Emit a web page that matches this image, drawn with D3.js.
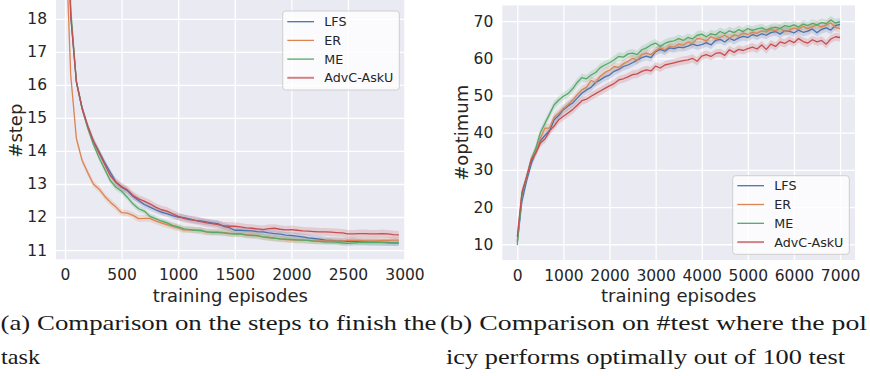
<!DOCTYPE html>
<html><head><meta charset="utf-8">
<script src="https://cdn.jsdelivr.net/npm/d3@7"></script>
<style>body{margin:0;background:#fff}svg{display:block}</style>
</head><body><svg id="c" width="870" height="376"></svg>
<script>
// ---------- data ----------
const seriesNames = ["LFS", "ER", "ME", "AdvC-AskU"];
const seriesColors = ["#4C72B0", "#DD8452", "#55A868", "#C44E52"];

// (a) #step vs training episodes
const stepEpisodes = d3.range(0, 3000, 50);
const stepLFS = [24, 18.1, 16.1, 15.3, 14.75, 14.3, 13.98, 13.65, 13.35, 13.05, 12.9, 12.8, 12.63, 12.5, 12.38, 12.3, 12.22, 12.15, 12.1, 12.04,
  12.0, 11.98, 11.94, 11.9, 11.88, 11.85, 11.82, 11.8, 11.72, 11.68, 11.6, 11.6, 11.59, 11.58, 11.56, 11.55, 11.52, 11.5, 11.48, 11.45,
  11.44, 11.42, 11.4, 11.37, 11.35, 11.33, 11.3, 11.29, 11.28, 11.27, 11.26, 11.27, 11.25, 11.25, 11.24, 11.24, 11.23, 11.23, 11.22, 11.22];
const stepER = [21, 16.3, 14.38, 13.72, 13.35, 13.0, 12.85, 12.63, 12.45, 12.3, 12.13, 12.12, 12.05, 11.95, 11.96, 11.96, 11.88, 11.82, 11.77, 11.72,
  11.67, 11.61, 11.62, 11.6, 11.58, 11.55, 11.55, 11.55, 11.53, 11.51, 11.5, 11.49, 11.47, 11.45, 11.43, 11.4, 11.38, 11.36, 11.34, 11.32,
  11.31, 11.3, 11.3, 11.29, 11.28, 11.28, 11.28, 11.28, 11.28, 11.27, 11.3, 11.29, 11.29, 11.28, 11.28, 11.28, 11.29, 11.29, 11.3, 11.3];
const stepME = [24, 18.3, 16.1, 15.3, 14.7, 14.2, 13.8, 13.45, 13.1, 12.9, 12.78, 12.6, 12.4, 12.25, 12.18, 12.02, 11.95, 11.88, 11.82, 11.75,
  11.7, 11.64, 11.62, 11.6, 11.6, 11.55, 11.53, 11.53, 11.52, 11.5, 11.48, 11.49, 11.45, 11.44, 11.44, 11.4, 11.38, 11.36, 11.34, 11.33,
  11.32, 11.31, 11.3, 11.29, 11.27, 11.26, 11.25, 11.25, 11.24, 11.22, 11.2, 11.22, 11.23, 11.23, 11.23, 11.23, 11.23, 11.22, 11.22, 11.22];
const stepAdvC = [24, 18.1, 16.1, 15.3, 14.75, 14.3, 13.95, 13.6, 13.25, 13.05, 12.92, 12.82, 12.65, 12.55, 12.48, 12.4, 12.3, 12.22, 12.18, 12.1,
  12.02, 11.96, 11.92, 11.9, 11.86, 11.82, 11.8, 11.77, 11.74, 11.72, 11.72, 11.7, 11.67, 11.66, 11.64, 11.62, 11.65, 11.66, 11.63, 11.61,
  11.62, 11.6, 11.58, 11.57, 11.56, 11.55, 11.55, 11.54, 11.53, 11.52, 11.49, 11.49, 11.5, 11.5, 11.49, 11.49, 11.5, 11.49, 11.47, 11.46];
const stepBand = [0.1, 0.1, 0.09, 0.12];
const stepXTicks = [0, 500, 1000, 1500, 2000, 2500, 3000];
const stepYTicks = [11, 12, 13, 14, 15, 16, 17, 18];

// (b) #optimum vs training episodes
const optEpisodes = d3.range(0, 7001, 100);
const optLFS = [10.5, 21.5, 27, 31.5, 35, 37.8, 39.3, 40.5, 43.5, 44.7, 46.2, 47.2, 48.0, 49.3, 50.6, 51.5, 52.2, 53.5, 54.2, 55.0,
  55.5, 56.5, 57.0, 57.8, 58.2, 58.8, 59.5, 60.2, 60.6, 60.2, 61.8, 62.4, 61.9, 62.8, 62.6, 63.0, 62.9, 63.3, 63.8, 63.4,
  63.7, 64.2, 63.6, 64.8, 65.1, 64.4, 65.4, 64.8, 65.5, 65.9, 65.6, 66.4, 66.0, 66.6, 66.2, 66.9, 67.2, 66.5, 67.4, 67.3,
  66.8, 67.6, 67.0, 67.3, 67.9, 66.9, 67.8, 68.2, 67.6, 68.8, 69.1];
const optER = [11, 23.5, 27.8, 33, 35, 38.5, 41.2, 41.3, 44.2, 45.2, 46.5, 47.5, 48.8, 50.2, 51.5, 52.2, 54.0, 53.5, 55.2, 56.2,
  56.8, 57.8, 57.5, 58.5, 59.2, 60.0, 59.5, 61.0, 61.4, 61.0, 62.0, 62.8, 62.3, 63.2, 63.0, 63.8, 63.5, 64.4, 63.9, 65.3,
  65.2, 64.6, 65.8, 65.2, 65.6, 66.2, 65.4, 66.3, 66.0, 66.8, 66.4, 67.0, 66.7, 67.4, 67.1, 67.8, 67.4, 68.1, 67.2, 67.6,
  68.2, 67.8, 68.6, 68.0, 68.5, 68.9, 68.4, 69.0, 69.5, 68.3, 68.0];
const optME = [9.8, 23, 28, 32.5, 35.8, 40, 42.5, 45, 47.5, 48.8, 49.8, 50.5, 51.8, 53.5, 54.8, 54.5, 55.5, 56.2, 57.5, 58.2,
  58.8, 59.6, 60.5, 60.3, 61.2, 61.4, 61.0, 62.3, 62.8, 63.6, 64.1, 63.2, 64.0, 64.5, 64.7, 65.3, 64.8, 65.6, 65.2, 66.2,
  66.5, 65.8, 66.6, 66.3, 67.2, 66.6, 67.4, 66.9, 67.7, 67.2, 68.0, 67.5, 67.9, 68.2, 67.6, 68.1, 68.4, 68.0, 68.8, 68.5,
  69.0, 68.4, 69.2, 68.8, 69.4, 69.0, 69.6, 69.3, 70.3, 69.5, 69.8];
const optAdvC = [12, 24, 28, 32.5, 34.5, 37.2, 38.3, 40.5, 41.8, 43.5, 44.4, 45.3, 46.2, 47.4, 48.6, 49.0, 49.8, 50.5, 51.2, 51.9,
  52.6, 53.2, 54.2, 54.5, 55.0, 55.6, 55.8, 56.5, 56.9, 56.6, 57.9, 57.4, 58.2, 58.5, 58.8, 59.1, 59.4, 59.6, 60.0, 59.2,
  60.6, 61.0, 60.5, 61.3, 61.5, 60.8, 62.3, 61.6, 62.4, 62.1, 62.6, 63.0, 62.5, 63.6, 62.4, 63.8, 63.2, 64.4, 64.0, 64.8,
  64.2, 65.3, 64.5, 64.1, 65.0, 64.4, 64.8, 63.8, 65.2, 65.8, 65.6];
const optBand = [1.1, 1.1, 1.1, 1.1];
const optXTicks = [0, 1000, 2000, 3000, 4000, 5000, 6000, 7000];
const optYTicks = [10, 20, 30, 40, 50, 60, 70];

const captionA = ["(a) Comparison on the steps to finish the", "task"];
const captionB = ["(b) Comparison on #test where the pol", "icy performs optimally out of 100 test"];

// ---------- drawing ----------
const svg = d3.select("#c");
const TEXT = "#262626";
const SANS = "DejaVu Sans, sans-serif";

function panel(cfg, id) {
  const x = d3.scaleLinear().domain(cfg.xDomain).range([cfg.left, cfg.right]);
  const y = d3.scaleLinear().domain(cfg.yDomain).range([cfg.bottom, cfg.top]);
  const g = svg.append("g");
  g.append("rect").attr("x", cfg.left).attr("y", cfg.top)
    .attr("width", cfg.right - cfg.left).attr("height", cfg.bottom - cfg.top).attr("fill", "#EAEAF2");
  // grid
  g.append("g").attr("transform", `translate(0,${cfg.bottom})`)
    .call(d3.axisBottom(x).tickValues(cfg.xTicks).tickSize(-(cfg.bottom - cfg.top)).tickFormat(""))
    .call(a => { a.select(".domain").remove(); a.selectAll("line").attr("stroke", "#fff").attr("stroke-width", 1.3); });
  g.append("g").attr("transform", `translate(${cfg.left},0)`)
    .call(d3.axisLeft(y).tickValues(cfg.yTicks).tickSize(-(cfg.right - cfg.left)).tickFormat(""))
    .call(a => { a.select(".domain").remove(); a.selectAll("line").attr("stroke", "#fff").attr("stroke-width", 1.3); });
  // tick labels
  g.append("g").attr("transform", `translate(0,${cfg.bottom})`)
    .call(d3.axisBottom(x).tickValues(cfg.xTicks).tickSize(0).tickPadding(10).tickFormat(d3.format("d")))
    .call(a => { a.select(".domain").remove(); a.selectAll("text").attr("font-family", SANS).attr("font-size", 15.5).attr("fill", TEXT); })
    .attr("font-family", null).attr("font-size", null);
  g.append("g").attr("transform", `translate(${cfg.left},0)`)
    .call(d3.axisLeft(y).tickValues(cfg.yTicks).tickSize(0).tickPadding(9).tickFormat(d3.format("d")))
    .call(a => { a.select(".domain").remove(); a.selectAll("text").attr("font-family", SANS).attr("font-size", 15.5).attr("fill", TEXT); })
    .attr("font-family", null).attr("font-size", null);
  // clip
  svg.append("clipPath").attr("id", id).append("rect")
    .attr("x", cfg.left).attr("y", cfg.top).attr("width", cfg.right - cfg.left).attr("height", cfg.bottom - cfg.top);
  const plot = g.append("g").attr("clip-path", `url(#${id})`);
  const area = d3.area().x((d, i) => x(cfg.xs[i]));
  cfg.series.forEach((s, k) => {
    plot.append("path").datum(s)
      .attr("d", area.y0(d => y(d - cfg.band[k])).y1(d => y(d + cfg.band[k])))
      .attr("fill", seriesColors[k]).attr("opacity", 0.2);
  });
  const line = d3.line().x((d, i) => x(cfg.xs[i])).y(d => y(d));
  cfg.series.forEach((s, k) => {
    plot.append("path").datum(s).attr("d", line).attr("fill", "none")
      .attr("stroke", seriesColors[k]).attr("stroke-width", 1.3).attr("stroke-linejoin", "round");
  });
  // axis labels
  g.append("text").attr("x", (cfg.left + cfg.right) / 2).attr("y", cfg.xLabelY)
    .attr("text-anchor", "middle").attr("font-family", SANS).attr("font-size", 18).attr("fill", TEXT).text("training episodes");
  g.append("text").attr("transform", `translate(${cfg.yLabelX},${(cfg.top + cfg.bottom) / 2 + cfg.yLabelShift}) rotate(-90)`)
    .attr("text-anchor", "middle").attr("dominant-baseline", "central")
    .attr("font-family", SANS).attr("font-size", 18).attr("fill", TEXT).text(cfg.yLabel);
  // legend
  const L = cfg.legend;
  const lg = g.append("g");
  lg.append("rect").attr("x", L.x).attr("y", L.y).attr("width", L.w).attr("height", L.h)
    .attr("rx", 3).attr("fill", "#fff").attr("fill-opacity", 0.8).attr("stroke", "#cfcfcf").attr("stroke-width", 1);
  seriesNames.forEach((n, k) => {
    const cy = L.y + L.first + k * L.step;
    lg.append("line").attr("x1", L.x + 4.6).attr("x2", L.x + 31.3).attr("y1", cy).attr("y2", cy)
      .attr("stroke", seriesColors[k]).attr("stroke-width", k === 3 ? 2 : 1.3).attr("opacity", k === 3 ? 0.7 : 1);
    lg.append("text").attr("x", L.x + 41.6).attr("y", cy).attr("dominant-baseline", "central")
      .attr("font-family", SANS).attr("font-size", 12.7).attr("fill", TEXT).text(n);
  });
}

panel({
  left: 56, right: 404.5, top: -1, bottom: 259.3,
  xDomain: [-80, 3000], yDomain: [10.72, 18.6],
  xTicks: stepXTicks, yTicks: stepYTicks,
  xs: stepEpisodes, series: [stepLFS, stepER, stepME, stepAdvC], band: stepBand,
  xLabelY: 302, yLabel: "#step", yLabelX: 15, yLabelShift: 1.5,
  legend: { x: 282.7, y: 11, w: 116.6, h: 79, first: 10.7, step: 18.7 }
}, "clipA");

panel({
  left: 502.3, right: 855, top: 5.5, bottom: 260,
  xDomain: [-325, 7324], yDomain: [5.77, 74.2],
  xTicks: optXTicks, yTicks: optYTicks,
  xs: optEpisodes, series: [optLFS, optER, optME, optAdvC], band: optBand,
  xLabelY: 302, yLabel: "#optimum", yLabelX: 461, yLabelShift: 0,
  legend: { x: 732.7, y: 175.7, w: 116.6, h: 78.6, first: 10, step: 18.8 }
}, "clipB");

// captions
const SERIF = "Liberation Serif, DejaVu Serif, serif";
function caption(lines, specs) {
  lines.forEach((t, i) => {
    svg.append("text").attr("x", specs[i].x).attr("y", specs[i].y)
      .attr("font-family", SERIF).attr("font-size", 21).attr("fill", "#1a1a1a")
      .attr("textLength", specs[i].w).attr("lengthAdjust", "spacingAndGlyphs").text(t);
  });
}
caption(captionA, [{ x: 0.5, y: 330, w: 436 }, { x: 1, y: 364, w: 39 }]);
caption(captionB, [{ x: 440, y: 330, w: 427 }, { x: 446, y: 364, w: 399 }]);
</script></body></html>
